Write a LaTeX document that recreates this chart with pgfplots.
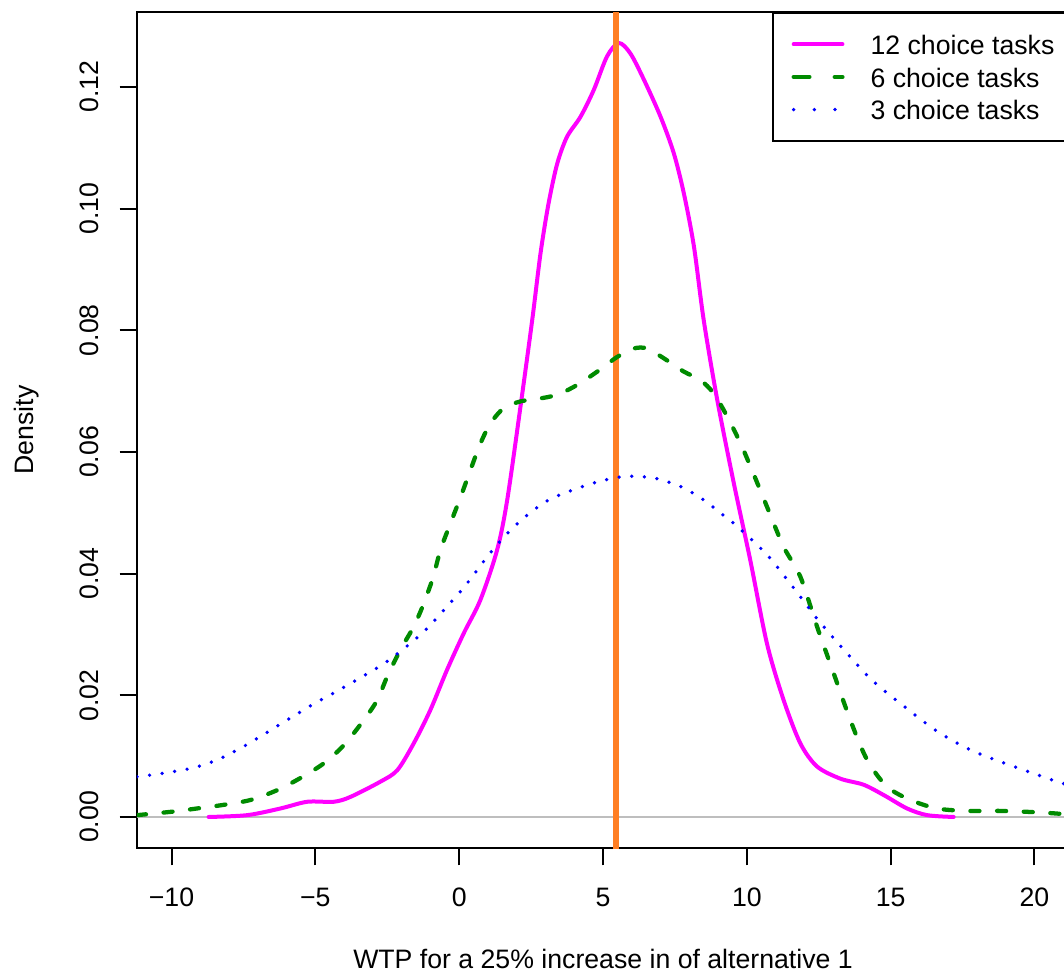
\documentclass[border=0pt]{standalone}
\usepackage{pgfplots}
\pgfplotsset{compat=1.18}
\usepackage{fontspec}
\setmainfont{Liberation Sans}
\definecolor{rmag}{RGB}{255,0,255}
\definecolor{rgreen}{RGB}{0,139,0}
\definecolor{rblue}{RGB}{0,0,255}
\definecolor{rorange}{RGB}{255,127,36}
\definecolor{rgray}{RGB}{190,190,190}
\begin{document}
\begin{tikzpicture}
\begin{axis}[
  at={(0pt,0pt)}, anchor=south west,
  scale only axis, width=349.5pt, height=313.5pt,
  xmin=-11.2, xmax=21.2, ymin=-0.0051, ymax=0.1323,
  axis line style={line width=0.75pt},
  tick align=outside, major tick length=6.5pt,
  tick style={black, line width=0.75pt},
  tick pos=left,
  xtick={-10,-5,0,5,10,15,20},
  xticklabels={−10,−5,0,5,10,15,20},
  ytick={0,0.02,0.04,0.06,0.08,0.1,0.12},
  yticklabels={0.00,0.02,0.04,0.06,0.08,0.10,0.12},
  every tick label/.append style={font=\fontsize{10}{12}\selectfont},
  xticklabel style={anchor=base, yshift=-15.6pt},
  yticklabel style={xshift=-8.1pt, rotate=90, anchor=base},
  every axis x label/.style={at={(axis description cs:0.5,0)}, yshift=-45pt, anchor=base, font=\fontsize{10}{12}\selectfont},
  every axis y label/.style={at={(axis description cs:0,0.5)}, xshift=-38.9pt, rotate=90, anchor=base, font=\fontsize{10}{12}\selectfont},
  xlabel={WTP for a 25\% increase in of alternative 1},
  ylabel={Density},
  legend cell align=left,
  legend style={at={(1,1)}, anchor=north east, draw=black, line width=0.75pt, fill=white,
    inner xsep=5.1pt, inner ysep=5.6pt, column sep=9.75pt, row sep=0pt,
    font=\fontsize{10}{12}\selectfont,
    nodes={inner sep=0pt, text height=9.95pt, text depth=2.3pt}},
  legend image code/.code={\path (-2pt,0pt); \draw[#1, line cap=round] (0pt,0pt) -- (18.3pt,0pt);},
]
\addplot[rgray, line width=0.4pt, forget plot] coordinates {(-11.2,0) (21.2,0)};

\addplot[rmag, line width=1.5pt, smooth, tension=0.5, line cap=round] coordinates {
(-8.71,0) (-7.37,0.0003) (-6.21,0.0014) (-5.28,0.0025) (-4.36,0.0025) (-3.78,0.0033)
(-2.74,0.0058) (-2.15,0.0077) (-1.58,0.0121) (-1.0,0.0176) (-0.42,0.0242) (0.16,0.0302)
(0.74,0.0357) (1.32,0.0439) (1.67,0.0521) (2.13,0.0674) (2.54,0.0817) (2.83,0.0927)
(3.11,0.1009) (3.41,0.1074) (3.75,0.1118) (4.22,0.1151) (4.68,0.1195) (5.14,0.125)
(5.55,0.1272) (5.95,0.1255) (6.42,0.1212) (7.0,0.1151) (7.46,0.1091) (7.81,0.1025)
(8.16,0.0938) (8.5,0.0817) (8.97,0.0686) (9.55,0.0548) (10.12,0.0422) (10.7,0.0285)
(11.28,0.0192) (11.86,0.0121) (12.44,0.0083) (13.25,0.0063) (14.06,0.0053) (14.76,0.0036)
(15.57,0.0014) (16.27,0.0003) (17.19,0)
};
\addlegendentry{12 choice tasks}

\addplot[rorange, line width=2.5pt, forget plot] coordinates {(5.45,-0.01) (5.45,0.14)};

\addplot[rgreen, line width=1.6pt, smooth, tension=0.5, line cap=round, dash pattern=on 3.4pt off 6.6pt,
  legend image post style={dash pattern=on 5.9pt off 9.5pt}] coordinates {
(-11.2,0.0003) (-9.92,0.0009) (-9.11,0.0014) (-8.18,0.002) (-7.25,0.0028) (-6.33,0.0044)
(-5.52,0.0064) (-4.71,0.0088) (-4.01,0.0118) (-3.32,0.0159) (-2.85,0.0192) (-2.5,0.0231)
(-2.04,0.0275) (-1.58,0.0313) (-1.23,0.0351) (-0.9,0.0395) (-0.65,0.0439) (-0.3,0.0483)
(0.05,0.0526) (0.39,0.057) (0.74,0.0614) (1.09,0.0647) (1.55,0.0672) (2.13,0.0683)
(2.71,0.0687) (3.41,0.0694) (4.1,0.071) (4.8,0.0732) (5.49,0.0756) (6.07,0.077)
(6.53,0.077) (7.11,0.0754) (7.81,0.0732) (8.39,0.0718) (8.85,0.0696) (9.32,0.0658)
(9.78,0.0614) (10.18,0.057) (10.7,0.051) (11.28,0.0444) (11.86,0.0395) (12.44,0.0313)
(13.02,0.0236) (13.6,0.0159) (14.18,0.0094) (14.87,0.005) (15.69,0.0028) (16.61,0.0014)
(17.65,0.001) (18.81,0.001) (19.97,0.0008) (20.67,0.0006) (21.2,0.0004)
};
\addlegendentry{6 choice tasks}

\addplot[rblue, line width=1.4pt, smooth, tension=0.5, line cap=round, dash pattern=on 0pt off 4.75pt,
  legend image post style={dash pattern=on 0pt off 7.75pt}] coordinates {
(-11.2,0.0066) (-10.27,0.0072) (-9.22,0.0081) (-8.36,0.0095) (-7.49,0.0116) (-6.68,0.0139)
(-5.86,0.0163) (-5.05,0.0186) (-4.24,0.0207) (-3.43,0.0229) (-2.62,0.0252) (-1.81,0.0281)
(-1.11,0.031) (-0.48,0.0343) (0.16,0.0377) (1.03,0.0431) (1.67,0.0466) (2.36,0.0496)
(3.11,0.0521) (3.98,0.0538) (4.91,0.0552) (5.84,0.056) (6.77,0.0557) (7.7,0.0543)
(8.5,0.0521) (9.26,0.0493) (9.66,0.0478) (10.7,0.0431) (11.57,0.038) (12.44,0.0326)
(13.37,0.0275) (14.35,0.0225) (15.46,0.0182) (16.61,0.0141) (17.83,0.0109) (19.16,0.0085)
(20.55,0.0062) (21.2,0.0052)
};
\addlegendentry{3 choice tasks}
\end{axis}
\pgfresetboundingbox
\path[use as bounding box] (-51.375pt,-48.375pt) rectangle (347.625pt,318pt);
\end{tikzpicture}
\end{document}
